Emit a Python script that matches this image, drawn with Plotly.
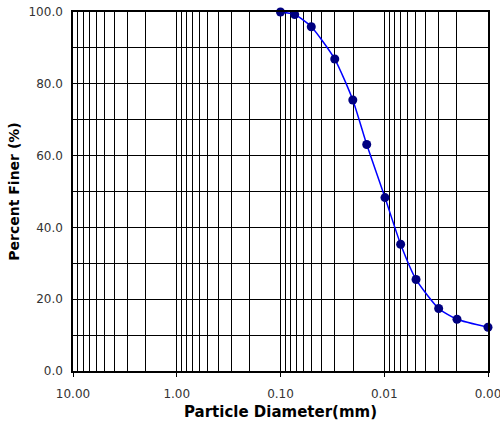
import plotly.graph_objects as go

diameter_mm = [0.1, 0.0730, 0.0505, 0.0300, 0.0201, 0.01476, 0.00984, 0.00695, 0.00494, 0.00299, 0.00199, 0.0010]
percent_finer = [100.0, 99.3, 95.9, 86.9, 75.5, 63.1, 48.3, 35.3, 25.5, 17.4, 14.4, 12.2]

x_tick_vals = [10, 1, 0.1, 0.01, 0.001]
x_tick_text = ["10.00", "1.00", "0.10", "0.01", "0.00"]
y_tick_vals = [0, 20, 40, 60, 80, 100]
y_tick_text = ["0.0", "20.0", "40.0", "60.0", "80.0", "100.0"]

minor_x = [m * 10.0 ** e for e in (-3, -2, -1, 0) for m in range(2, 10)]

fig = go.Figure()
fig.add_trace(go.Scatter(
    x=diameter_mm, y=percent_finer, mode="lines+markers",
    line=dict(color="#0000FF", width=1.5, shape="spline", smoothing=0.6),
    marker=dict(color="#000080", size=9),
    showlegend=False, cliponaxis=False,
))

fig.update_layout(
    width=500, height=425,
    margin=dict(l=73, r=12, t=12, b=54),
    paper_bgcolor="white", plot_bgcolor="white",
    font=dict(family="DejaVu Sans", color="#333333", size=12),
    xaxis=dict(
        type="log", range=[1, -3], automargin=False, ticklabeloverflow="allow",
        tickvals=x_tick_vals, ticktext=x_tick_text, ticklabelstandoff=7,
        showgrid=True, gridcolor="black", gridwidth=1,
        minor=dict(tickvals=minor_x, showgrid=True, gridcolor="black", gridwidth=1, ticks=""),
        showline=True, linecolor="black", linewidth=1.5, mirror=True,
        ticks="outside", ticklen=4, tickcolor="black",
        tickfont=dict(size=12, color="#333333"),
        title=dict(text="Particle Diameter(mm)", font=dict(size=15, color="black", family="DejaVu Sans", weight="bold"), standoff=6),
        zeroline=False,
    ),
    yaxis=dict(
        range=[0, 100], automargin=False, ticklabeloverflow="allow",
        tickvals=y_tick_vals, ticktext=y_tick_text, ticklabelstandoff=6,
        showgrid=True, gridcolor="black", gridwidth=1,
        minor=dict(dtick=10, showgrid=True, gridcolor="black", gridwidth=1, ticks=""),
        showline=True, linecolor="black", linewidth=1.5, mirror=True,
        ticks="", ticklen=4,
        tickfont=dict(size=12, color="#333333"),
        title=dict(text="Percent Finer (%)", font=dict(size=14, color="black", family="DejaVu Sans", weight="bold"), standoff=6),
        zeroline=False,
    ),
)

fig.write_html("out.html")
